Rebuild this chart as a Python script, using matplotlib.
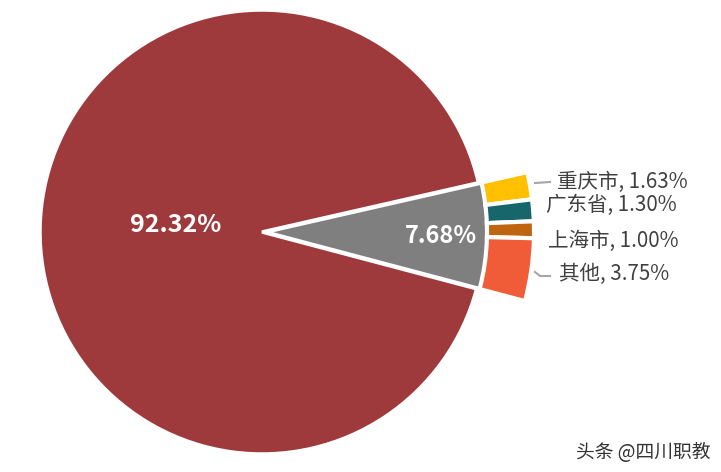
import matplotlib.pyplot as plt

plt.rcParams['font.family'] = ['Noto Sans CJK SC', 'DejaVu Sans']

# main split
main_labels = ['其他省份', '四省市合计']
main_values = [92.32, 7.68]
main_colors = ['#9E3A3C', '#7F7F7F']

# breakdown of the 7.68% slice, top to bottom
sub_names = ['重庆市', '广东省', '上海市', '其他']
sub_values = [1.63, 1.30, 1.00, 3.75]
sub_colors = ['#FFC000', '#17666B', '#C0650F', '#F05B38']

W, H = 721, 472
fig = plt.figure(figsize=(W / 100, H / 100), dpi=100)
ax = fig.add_axes([0, 0, 1, 1])
ax.axis('off')

cx, cy = 262, 240
R = 222
small = main_values[1] / 100 * 360
top_ang = small / 2 - 1.0  # upper edge of the small slice

# big pie: small slice first, counterclockwise from its lower edge
ax.pie([main_values[1], main_values[0]], center=(cx, cy), radius=R,
       startangle=top_ang - small, counterclock=True,
       colors=[main_colors[1], main_colors[0]], explode=[4, 0],
       wedgeprops=dict(edgecolor='white', linewidth=2.5))

# outer ring segments over the small slice, going clockwise from the top
ring_vals = sub_values + [100 - sum(sub_values)]
wedges, _ = ax.pie(ring_vals, center=(cx + 2, cy), radius=270, startangle=top_ang,
                   counterclock=False, colors=sub_colors + ['none'],
                   wedgeprops=dict(width=47, edgecolor='white', linewidth=3))
wedges[-1].set_edgecolor('none')
ax.set_xlim(0, W)
ax.set_ylim(0, H)
ax.set_aspect('equal')

ax.text(176, H - 225, f'{main_values[0]:.2f}%', color='white', fontsize=18,
        fontweight='bold', ha='center', va='center')
ax.text(441, H - 236, f'{main_values[1]:.2f}%', color='white', fontsize=17,
        fontweight='bold', ha='center', va='center')

# labels for the ring
lab_pos = [(557, 182), (546, 205), (548, 241), (559, 274)]
for name, v, (lx, ly) in zip(sub_names, sub_values, lab_pos):
    ax.text(lx, H - ly, f'{name}, {v:.2f}%', color='#404040', fontsize=14.8,
            ha='left', va='center')

ax.plot([535, 550], [H - 183, H - 182], color='#A6A6A6', lw=1.5)
ax.plot([535, 540, 550], [H - 272, H - 276, H - 276], color='#A6A6A6', lw=1.5)

ax.text(710, H - 452, '头条 @四川职教', color='#333333', fontsize=13.5,
        ha='right', va='center')

fig.savefig('out.png', dpi=100)
